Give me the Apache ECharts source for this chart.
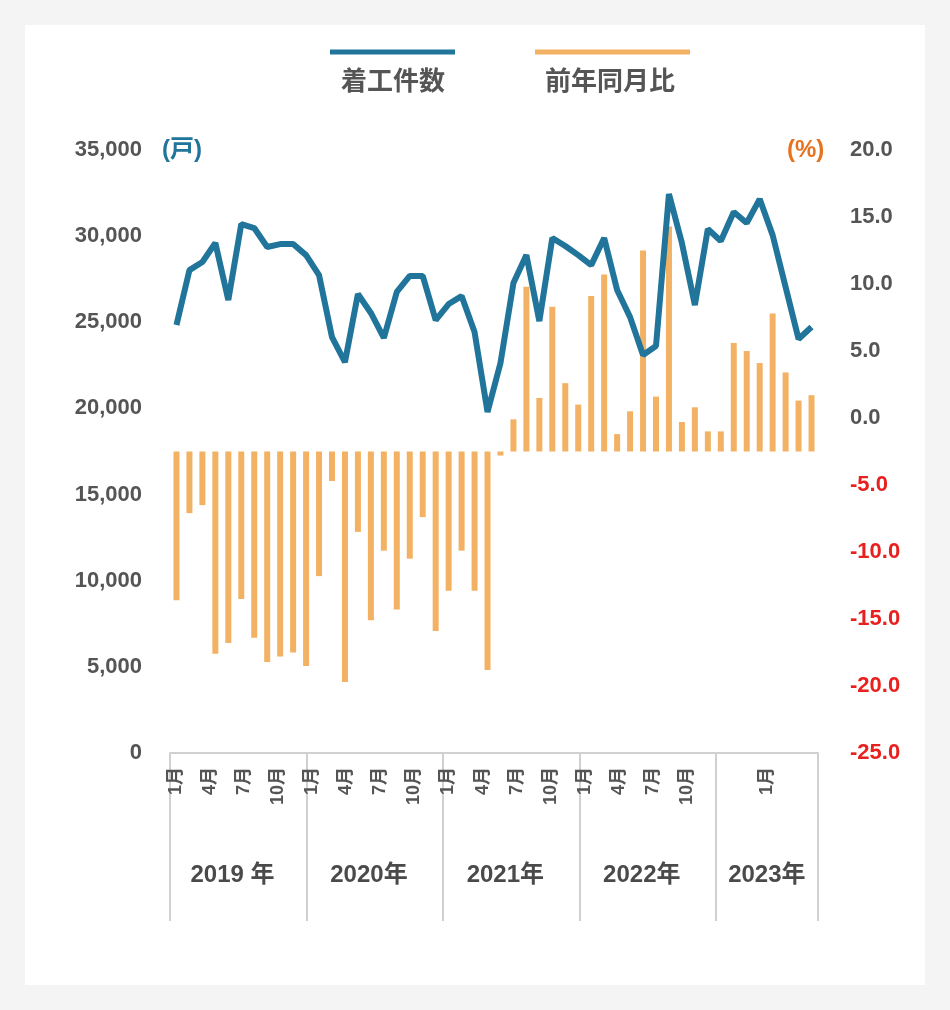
<!DOCTYPE html>
<html><head><meta charset="utf-8">
<script src="https://cdn.jsdelivr.net/npm/echarts@6/dist/echarts.min.js"></script>
<style>
html,body{margin:0;padding:0;background:#f4f4f4;width:950px;height:1010px;overflow:hidden}
#c{position:absolute;left:25px;top:25px;width:900px;height:960px;background:#fff}
</style></head><body><div id="c"></div>
<script>
// Months Jan 2019 - Feb 2023
const months = [];
for (let y = 2019; y <= 2023; y++) for (let m = 1; m <= 12; m++) { if (y === 2023 && m > 2) break; months.push(y + '-' + m); }
const starts = [24840,28030,28500,29600,26290,30700,30470,29370,29540,29540,28900,27740,
  24140,22690,26640,25540,24090,26760,27690,27690,25130,26060,26520,24430,
  19790,22640,27280,28900,25070,29890,29430,28900,28320,29890,26870,25300,
  23100,23620,32440,29600,26000,30410,29720,31400,30760,32150,30060,27050,
  24030,24730];
const yoy = [-11.1,-4.6,-4.0,-15.1,-14.3,-11.0,-13.9,-15.7,-15.3,-15.0,-16.0,-9.3,
  -2.2,-17.2,-6.0,-12.6,-7.4,-11.8,-8.0,-4.9,-13.4,-10.4,-7.4,-10.4,
  -16.3,-0.3,2.4,12.3,4.0,10.8,5.1,3.5,11.6,13.2,1.3,3.0,
  15.0,4.1,16.8,2.2,3.3,1.5,1.5,8.1,7.5,6.6,10.3,5.9,3.8,4.2];
// label axis slots (as in the reference's category band)
const labelSlots = 57;
const monthTickLabels = {0:'1月',3:'4月',6:'7月',9:'10月'};
const yearLabels = {5:'2019 年',17:'2020年',29:'2021年',41:'2022年',52:'2023年'};
const legendNames = ['着工件数','前年同月比'];

const slotData = Array.from({length: labelSlots}, (_, i) => {
  if (i < 48) return monthTickLabels[i % 12] || '';
  return i === 52 ? '1月' : '';
});
const yearData = Array.from({length: labelSlots}, (_, i) => yearLabels[i] || '');

const chart = echarts.init(document.getElementById('c'));
const F = 'Liberation Sans, Noto Sans CJK JP, sans-serif';
chart.setOption({
  animation: false,
  textStyle: {fontFamily: F},
  grid: {left: 145, right: 107, top: 125, bottom: 232},
  xAxis: [
    {type: 'category', data: months, show: false},
    {type: 'category', data: slotData, position: 'bottom',
      axisLine: {show: true, onZero: false, lineStyle: {color: '#d0d0d0', width: 2}},
      axisTick: {show: true, length: 168, lineStyle: {color: '#d0d0d0', width: 2},
        interval: (i) => i % 12 === 0 || i === 48},
      axisLabel: {interval: 0, rotate: 90, fontSize: 18, fontWeight: 'bold', color: '#555', margin: 14, fontFamily: F}},
    {type: 'category', data: yearData, position: 'bottom', offset: 0,
      axisLine: {show: false, onZero: false}, axisTick: {show: false},
      axisLabel: {interval: 0, fontSize: 24, fontWeight: 'bold', color: '#4a4a4a', margin: 110, fontFamily: F}}
  ],
  yAxis: [
    {type: 'value', min: 0, max: 35000, interval: 5000, position: 'left',
      splitLine: {show: false}, axisLine: {show: false}, axisTick: {show: false},
      axisLabel: {fontSize: 22, fontWeight: 'bold', color: '#555', margin: 28,
        formatter: v => v.toLocaleString('en-US')}},
    {type: 'value', min: -25, max: 20, interval: 5, position: 'right',
      splitLine: {show: false}, axisLine: {show: false}, axisTick: {show: false},
      axisLabel: {fontSize: 22, fontWeight: 'bold', margin: 32,
        color: v => (Number(v) < 0 ? '#e8211f' : '#555'),
        formatter: v => v.toFixed(1)}},
    {type: 'value', min: -22.5, max: 22.5, show: false}
  ],
  graphic: [
    {type: 'line', shape: {x1: 305, y1: 27, x2: 430, y2: 27}, style: {stroke: '#21759b', lineWidth: 5}},
    {type: 'text', x: 368, y: 58, style: {text: legendNames[0], fill: '#555', font: 'bold 26px ' + F, align: 'center', verticalAlign: 'middle'}},
    {type: 'line', shape: {x1: 510, y1: 27, x2: 665, y2: 27}, style: {stroke: '#f3b263', lineWidth: 5}},
    {type: 'text', x: 585, y: 58, style: {text: legendNames[1], fill: '#555', font: 'bold 26px ' + F, align: 'center', verticalAlign: 'middle'}},
    {type: 'text', x: 137, y: 125, style: {text: '(戸)', fill: '#21759b', font: 'bold 24px ' + F, verticalAlign: 'middle'}},
    {type: 'text', x: 762, y: 125, style: {text: '(%)', fill: '#e8731f', font: 'bold 24px ' + F, verticalAlign: 'middle'}}
  ],
  series: [
    {name: legendNames[1], type: 'bar', xAxisIndex: 0, yAxisIndex: 2, data: yoy,
      barWidth: 6, itemStyle: {color: '#f3b263'}, z: 1},
    {name: legendNames[0], type: 'line', xAxisIndex: 0, yAxisIndex: 0, data: starts,
      symbol: 'none', lineStyle: {color: '#21759b', width: 6}, z: 3}
  ]
});
</script></body></html>
